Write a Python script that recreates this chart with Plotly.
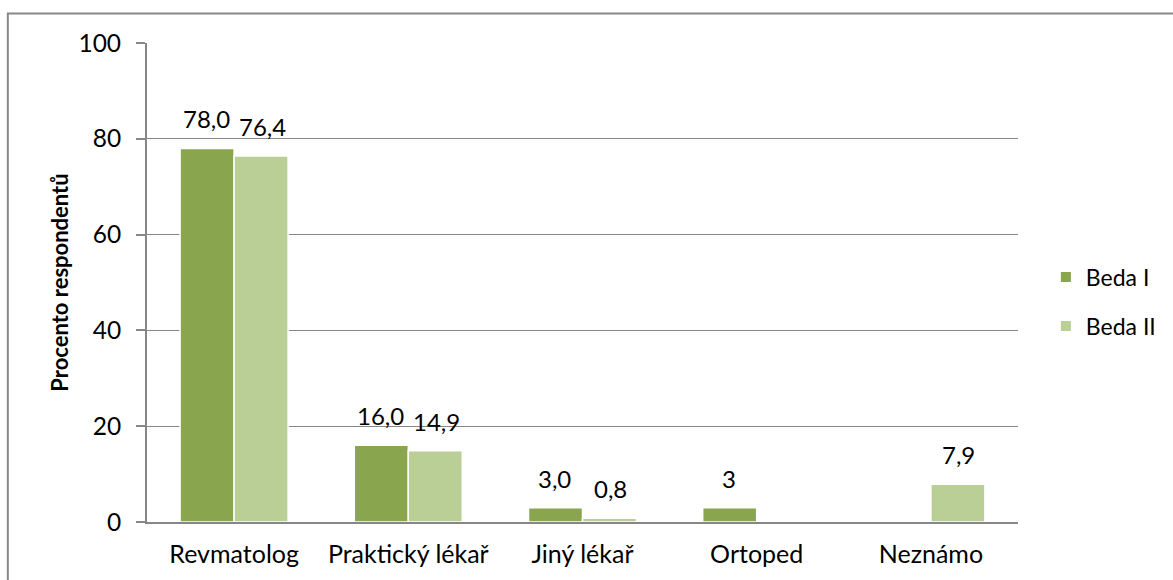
import plotly.graph_objects as go

# Categories and series
categories = ["Revmatolog", "Praktický lékař", "Jiný lékař", "Ortoped", "Neznámo"]
beda1 = [78.0, 16.0, 3.0, 3.0, None]
beda2 = [76.4, 14.9, 0.8, None, 7.9]
beda1_labels = ["78,0", "16,0", "3,0", "3", ""]
beda2_labels = ["76,4", "14,9", "0,8", "", "7,9"]
y_ticks = [0, 20, 40, 60, 80, 100]

FONT = "Lato, Carlito, Calibri, sans-serif"
C1 = "#89A54E"
C2 = "#B9CF96"
GRID = "#878787"

fig = go.Figure()
fig.add_trace(go.Bar(
    name="Beda I", x=categories, y=beda1, legendgroup="b1",
    marker=dict(color=C1, line=dict(color="white", width=1.5)),
))
fig.add_trace(go.Bar(
    name="Beda II", x=categories, y=beda2, legendgroup="b2",
    marker=dict(color=C2, line=dict(color="white", width=1.5)),
))

# Value labels above each bar
for vals, labels, shift in ((beda1, beda1_labels, -28), (beda2, beda2_labels, 28)):
    for cat, v, lab in zip(categories, vals, labels):
        if v is None or not lab:
            continue
        fig.add_annotation(
            x=cat, y=v, text=lab, showarrow=False,
            xshift=shift, yshift=13, yanchor="bottom",
            font=dict(family=FONT, size=24, color="#000000"),
        )

# Outer chart frame
fig.add_shape(
    type="rect", xref="paper", yref="paper",
    x0=-0.1598, x1=1.3, y0=-0.3, y1=1.0616,
    line=dict(color=GRID, width=2), layer="below",
)

fig.update_layout(
    width=1173, height=580,
    margin=dict(l=147, r=148, t=43, b=58),
    paper_bgcolor="white", plot_bgcolor="white",
    barmode="group", bargap=0.38, bargroupgap=0.0,
    font=dict(family=FONT, size=25, color="#000000"),
    showlegend=True,
    legend=dict(
        x=1.032, y=0.46, xanchor="left", yanchor="middle",
        font=dict(family=FONT, size=23),
        itemsizing="constant", tracegroupgap=16, itemwidth=30,
    ),
    xaxis=dict(
        showline=True, linecolor=GRID, linewidth=2,
        ticks="", showgrid=False, ticklabelstandoff=9,
        tickfont=dict(family=FONT, size=25),
    ),
    yaxis=dict(
        range=[0, 100], tickvals=y_ticks,
        showline=True, linecolor=GRID, linewidth=2,
        ticks="outside", ticklen=9, tickcolor=GRID, tickwidth=2,
        showgrid=True, gridcolor=GRID, gridwidth=1.3,
        zeroline=False, ticklabelstandoff=10,
        tickfont=dict(family=FONT, size=24.5),
        title=dict(text="<b>Procento respondentů</b>", font=dict(family=FONT, size=22), standoff=4),
    ),
)

fig.write_html("out.html")
